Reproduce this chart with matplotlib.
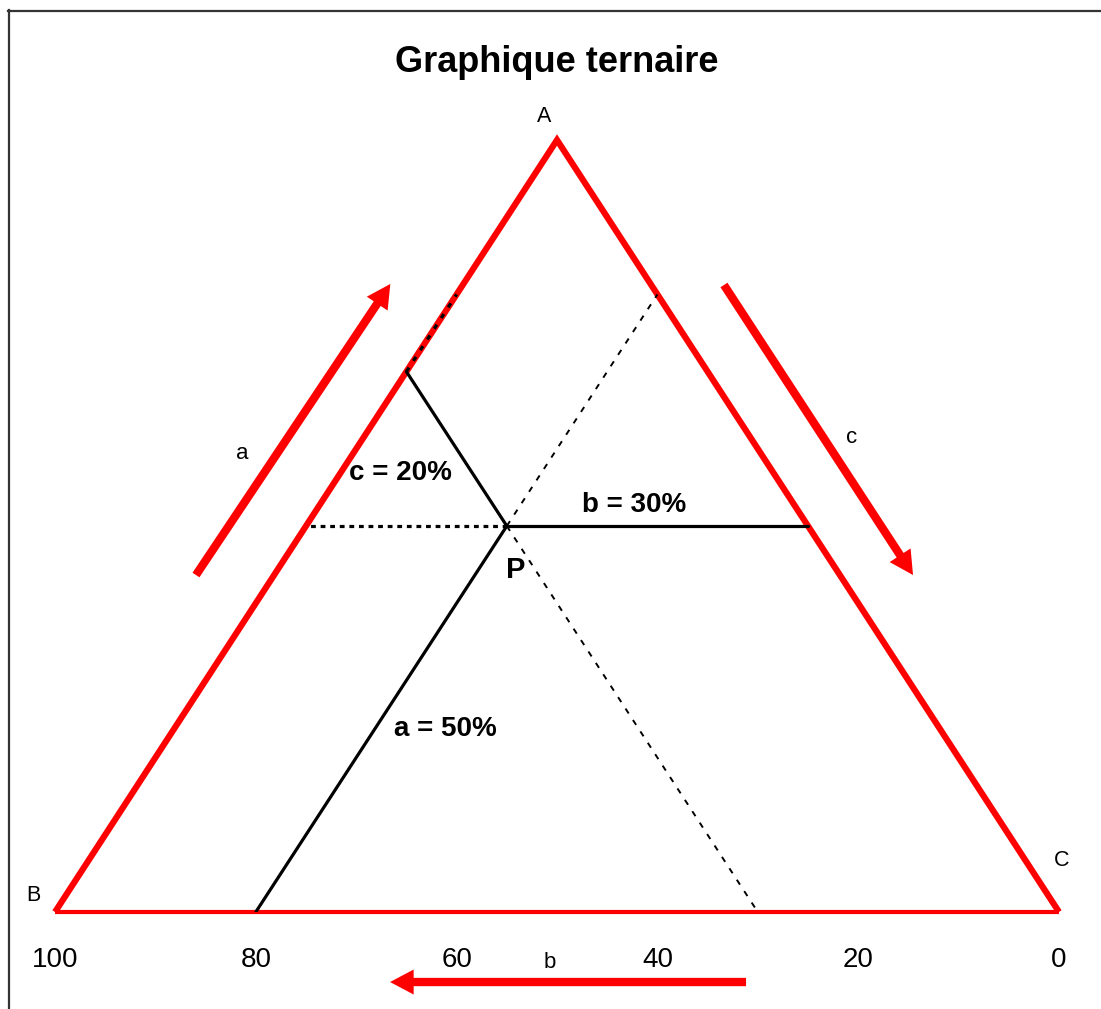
# graphique ternaire : point P et ses trois composantes

import matplotlib
matplotlib.use("Agg")
import matplotlib.pyplot as plt
from matplotlib.lines import Line2D
from matplotlib.patches import FancyArrowPatch

plt.rcParams['font.family'] = ['Liberation Sans', 'DejaVu Sans']

# composition du point P (en %)
p_a = 50
p_b = 30
p_c = 20

tick_values = [100, 80, 60, 40, 20, 0]
corner_names = ["A", "B", "C"]
axis_names = ["a", "b", "c"]


def to_xy(a, b, c):
    # A en haut, B en bas a gauche, C en bas a droite
    s = a + b + c
    a, b, c = a / s, b / s, c / s
    return a * 0.5 + c * 1.0, a


W, H = 1101, 1009
fig = plt.figure(figsize=(W / 100, H / 100), dpi=100)
# triangle : B px 55, C px 1059, base py 912, sommet py 140
ax = fig.add_axes([55 / W, (H - 912) / H, 1004 / W, 772 / H])
ax.set_xlim(0, 1)
ax.set_ylim(0, 1)
ax.axis("off")

# cadre (seulement haut et gauche visibles)
fig.add_artist(Line2D([8 / W, 1], [1 - 10.5 / H, 1 - 10.5 / H], transform=fig.transFigure, color="#333333", lw=1.6))
fig.add_artist(Line2D([8.5 / W, 8.5 / W], [0, 1 - 10 / H], transform=fig.transFigure, color="#333333", lw=1.6))

A = to_xy(100, 0, 0)
B = to_xy(0, 100, 0)
C = to_xy(0, 0, 100)

ax.plot([B[0], A[0], C[0]], [B[1], A[1], C[1]], color="red", lw=4.5,
        solid_joinstyle="miter", solid_capstyle="butt", clip_on=False, zorder=3)
ax.plot([B[0], C[0]], [B[1], C[1]], color="red", lw=3, solid_capstyle="butt", clip_on=False, zorder=3)

P = to_xy(p_a, p_b, p_c)

# traits pleins
solid_ends = [
    to_xy(0, p_b + p_a, p_c),      # vers la base
    to_xy(p_a, 0, p_b + p_c),      # vers AC (horizontal)
    to_xy(p_a + p_c, p_b, 0),      # vers AB
]
for e in solid_ends:
    ax.plot([P[0], e[0]], [P[1], e[1]], color="black", lw=2.3, zorder=4, solid_capstyle="round")

# pointilles
ql = to_xy(p_a, p_b + p_c, 0)
ax.plot([P[0], ql[0]], [P[1], ql[1]], color="black", lw=2.3, ls=(0, (1.5, 1.5)), zorder=4)
q1 = to_xy(p_a + p_b, 0, p_c)
q2 = to_xy(0, p_b, p_a + p_c)
for e in [q1, q2]:
    ax.plot([P[0], e[0]], [P[1], e[1]], color="black", lw=1.4, ls=(0, (3, 4)), zorder=4)
e1 = to_xy(p_a + p_c, p_b, 0)
e2 = to_xy(p_a + p_b, p_c, 0)
ax.plot([e1[0], e2[0]], [e1[1], e2[1]], color="black", lw=2.3, ls=(0, (1.5, 2.5)), zorder=5)

# fleches
arrows = [
    ((0.1404, 0.4365), (0.334, 0.8135)),
    ((0.6663, 0.8122), (0.8546, 0.4365)),
    ((0.6883, -0.0907), (0.3337, -0.0907)),
]
for tail, tip in arrows:
    ar = FancyArrowPatch(tail, tip, arrowstyle="simple,head_length=0.85,head_width=0.9,tail_width=0.3",
                         mutation_scale=20, color="red", lw=0, shrinkA=0, shrinkB=0,
                         transform=ax.transData, clip_on=False, zorder=3)
    ax.add_patch(ar)

# graduations de b
for t in tick_values:
    ax.text(1 - t / 100, -0.062, str(t), fontsize=20, ha="center", va="center", clip_on=False)

# noms
ax.text(0.487, 1.031, corner_names[0], fontsize=15.5, ha="center", va="center")
ax.text(-0.022, 0.022, corner_names[1], fontsize=15.5, ha="center", va="center")
ax.text(1.003, 0.067, corner_names[2], fontsize=15.5, ha="center", va="center")
ax.text(0.187, 0.594, axis_names[0], fontsize=16, ha="center", va="center")
ax.text(0.493, -0.066, axis_names[1], fontsize=16, ha="center", va="center")
ax.text(0.793, 0.615, axis_names[2], fontsize=16, ha="center", va="center")

ax.text(0.3436, 0.5687, "c = %d%%" % p_c, fontsize=20, fontweight="bold", ha="center", va="center")
ax.text(0.5767, 0.527, "b = %d%%" % p_b, fontsize=20, fontweight="bold", ha="center", va="center")
ax.text(0.459, 0.443, "P", fontsize=21, fontweight="bold", ha="center", va="center")
ax.text(0.389, 0.237, "a = %d%%" % p_a, fontsize=20, fontweight="bold", ha="center", va="center")

fig.text(557 / W, 1 - 62 / H, "Graphique ternaire", fontsize=26, fontweight="bold", ha="center", va="center")

fig.savefig("out.png", dpi=100)
